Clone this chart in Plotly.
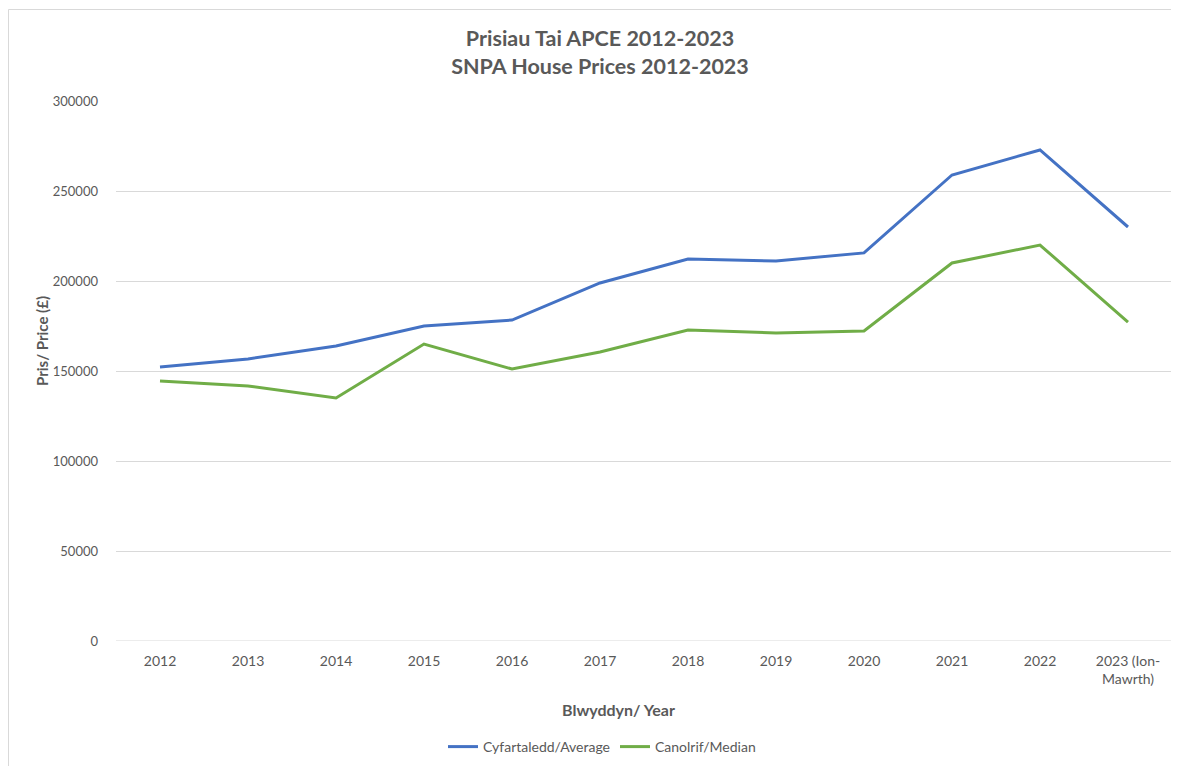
import plotly.graph_objects as go

years = ["2012", "2013", "2014", "2015", "2016", "2017", "2018", "2019", "2020", "2021", "2022", "2023 (Ion-<br>Mawrth)"]
average = [152200, 156700, 163900, 175000, 178300, 198900, 212200, 211100, 215600, 258900, 272800, 230000]
median = [144400, 141700, 135000, 165000, 151100, 160600, 172800, 171100, 172200, 210000, 220000, 177200]
yticks = [0, 50000, 100000, 150000, 200000, 250000, 300000]

font_family = "Lato, Open Sans, sans-serif"
grey = "#595959"

# figure is drawn inside the page's 8px body margin
W, H = 1171, 758
L, R, T, B = 108, 7, 93, 125
PW, PH = W - L - R, H - T - B

def px(xp):
    return (xp - L) / PW

def py(yp):
    return (H - B - yp) / PH

fig = go.Figure()
fig.add_trace(go.Scatter(x=years, y=average, mode="lines", name="Cyfartaledd/Average",
                         line=dict(color="#4472C4", width=3)))
fig.add_trace(go.Scatter(x=years, y=median, mode="lines", name="Canolrif/Median",
                         line=dict(color="#70AD47", width=3)))

fig.update_layout(
    width=W, height=H,
    margin=dict(l=L, r=R, t=T, b=B, autoexpand=False),
    paper_bgcolor="white", plot_bgcolor="white",
    font=dict(family=font_family, color=grey, size=14),
    title=dict(text="<b>Prisiau Tai APCE 2012-2023<br>SNPA House Prices 2012-2023</b>",
               xref="container", yref="container",
               x=592 / W, xanchor="center", y=1 - 38 / H, yanchor="middle",
               font=dict(size=21.5, color=grey, family=font_family)),
    showlegend=True,
    legend=dict(orientation="h", x=px(594), xanchor="center", y=py(739), yanchor="middle",
                font=dict(size=14, color=grey), entrywidthmode="pixels"),
    xaxis=dict(type="category", range=[-0.5, 11.5], showgrid=False, ticks="",
               showline=False, zeroline=False, ticklabelstandoff=10,
               tickfont=dict(size=14, color=grey)),
    yaxis=dict(range=[0, 300000], tickvals=yticks, ticktext=[str(v) for v in yticks],
               showgrid=True, gridcolor="#D9D9D9", gridwidth=1, zeroline=False,
               showline=False, ticks="", ticklabelstandoff=17,
               tickfont=dict(size=13, color=grey)),
)
fig.add_annotation(text="<b>Blwyddyn/ Year</b>", xref="paper", yref="paper",
                   x=px(610), y=py(701), xanchor="center", yanchor="middle",
                   showarrow=False, font=dict(size=16, color=grey))
fig.add_annotation(text="<b>Pris/ Price (£)</b>", xref="paper", yref="paper",
                   x=px(34), y=py(333), xanchor="center", yanchor="middle", textangle=-90,
                   showarrow=False, font=dict(size=15, color=grey))
fig.add_shape(type="line", xref="paper", yref="y", x0=0, x1=1, y0=0, y1=0,
              line=dict(color="#D9D9D9", width=1))
# chart-area border (top and left edges visible)
fig.add_shape(type="line", xref="paper", yref="paper", x0=px(0.5), x1=px(W + 20),
              y0=py(1.5), y1=py(1.5), line=dict(color="#D9D9D9", width=1), layer="below")
fig.add_shape(type="line", xref="paper", yref="paper", x0=px(0.5), x1=px(0.5),
              y0=py(1.5), y1=py(H + 20), line=dict(color="#D9D9D9", width=1), layer="below")

fig.write_html("out.html")
